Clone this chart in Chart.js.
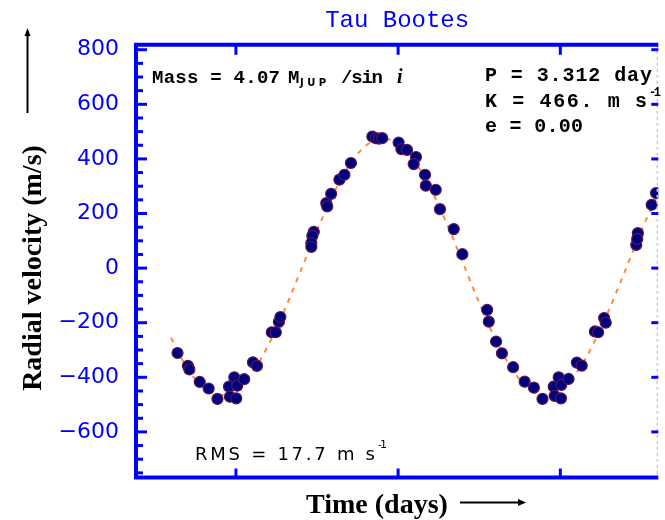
<!DOCTYPE html>
<html>
<head>
<meta charset="utf-8">
<script src="https://cdn.jsdelivr.net/npm/chart.js@4/dist/chart.umd.min.js"></script>
<style>
  body { margin: 0; background: #fff; }
  canvas { display: block; }
</style>
</head>
<body>
<canvas id="rv" width="665" height="520"></canvas>
<script>
// observed radial velocities (time in plot units, velocity in m/s)
const obsTime = [0.640, 0.704, 0.713, 0.777, 0.832, 0.886, 0.957, 0.990, 1.008, 0.963,
  1.002, 1.051, 1.105, 1.130, 1.221, 1.246, 1.265, 1.274, 1.480, 1.471,
  1.465, 1.465, 1.557, 1.563, 1.587, 1.638, 1.669, 1.709, 1.841, 1.862,
  1.882, 1.902, 2.003, 2.020, 2.055, 2.110, 2.096, 2.166, 2.171, 2.232,
  2.258, 2.343, 2.396, 2.549, 2.559, 2.604, 2.640, 2.709, 2.780, 2.837,
  2.890, 2.959, 2.990, 3.006, 2.965, 3.004, 3.051, 3.102, 3.132, 3.213,
  3.233, 3.270, 3.280, 3.468, 3.478, 3.474, 3.563, 3.590];
const obsVel = [-311, -358, -371, -417, -441, -479, -434, -400, -431, -471,
  -477, -407, -345, -358, -235, -235, -197, -179, 133, 118,
  92, 78, 238, 226, 272, 324, 342, 385, 482, 476,
  474, 476, 460, 436, 433, 407, 381, 342, 302, 287,
  216, 143, 51, -153, -196, -269, -312, -363, -416, -438,
  -479, -434, -400, -428, -468, -477, -406, -346, -357, -232,
  -235, -183, -200, 85, 128, 107, 232, 275];

// orbit fit
const fitTime = [0.6, 0.7, 0.8, 0.9, 1.0, 1.1, 1.2, 1.3, 1.4, 1.5, 1.6, 1.7, 1.8, 1.9, 2.0,
  2.1, 2.2, 2.3, 2.4, 2.5, 2.6, 2.7, 2.8, 2.9, 3.0, 3.1, 3.2, 3.3, 3.4, 3.5, 3.6];
const fitVel = [-255, -367, -438, -465, -446, -383, -282, -153, -9, 138, 271, 378, 448, 475, 456,
  393, 292, 163, 19, -128, -261, -368, -438, -465, -446, -383, -282, -153, -9, 138, 271];

const velTicks = [-600, -400, -200, 0, 200, 400, 600, 800];
const timeTicks = [1, 2, 3];

function fitText(ctx, str, x, y, font, width) {
  ctx.font = font;
  ctx.letterSpacing = '0px';
  if (width && str.length > 1) {
    const w = ctx.measureText(str).width;
    ctx.letterSpacing = ((width - w) / (str.length - 1)) + 'px';
  }
  ctx.fillText(str, x, y);
  ctx.letterSpacing = '0px';
}

function seg(ctx, x1, y1, x2, y2) {
  ctx.beginPath();
  ctx.moveTo(x1, y1);
  ctx.lineTo(x2, y2);
  ctx.stroke();
}

const frame = {
  id: 'frame',
  afterDatasetsDraw(chart) {
    const { ctx, chartArea: a, scales: { x, y } } = chart;
    ctx.save();
    // right edge, faint
    ctx.strokeStyle = '#c4c4ff';
    ctx.lineWidth = 1.5;
    ctx.setLineDash([3, 3]);
    seg(ctx, a.right - 1, a.top, a.right - 1, a.bottom);
    ctx.setLineDash([]);

    ctx.strokeStyle = '#0000ff';
    ctx.lineWidth = 4;
    ctx.beginPath();
    ctx.moveTo(a.right, a.top);
    ctx.lineTo(a.left, a.top);
    ctx.lineTo(a.left, a.bottom);
    ctx.lineTo(a.right, a.bottom);
    ctx.stroke();

    ctx.lineWidth = 3;
    for (let v = Math.ceil(y.min / 50) * 50; v <= y.max; v += 50) {
      const py = y.getPixelForValue(v);
      const major = velTicks.includes(v);
      seg(ctx, a.left, py, a.left + (major ? 11 : 7), py);
      if (major) seg(ctx, a.right, py, a.right - 7, py);
    }
    timeTicks.forEach(t => {
      const px = x.getPixelForValue(t);
      seg(ctx, px, a.top, px, a.top + 10);
      seg(ctx, px, a.bottom, px, a.bottom - 9);
    });
    ctx.restore();
  },
  afterDraw(chart) {
    const ctx = chart.ctx;
    ctx.save();
    ctx.fillStyle = '#000';
    ctx.textAlign = 'left';
    ctx.textBaseline = 'alphabetic';
    const mono = 'bold 19px "Liberation Mono"';

    // mass label
    fitText(ctx, 'Mass = 4.07', 152, 83, mono, 128);
    fitText(ctx, 'M', 288, 83, mono);
    fitText(ctx, 'JUP', 300, 86, 'bold 10px "DejaVu Sans"', 26);
    fitText(ctx, '/sin', 341, 83, mono, 42);
    fitText(ctx, 'i', 397, 83, 'italic bold 20px "Liberation Serif"');

    // orbit parameters
    const mono2 = 'bold 20px "Liberation Mono"';
    fitText(ctx, 'P = 3.312 day', 485, 81, mono2, 167);
    fitText(ctx, 'K = 466. m s', 485, 107, mono2, 162);
    fitText(ctx, '-1', 649, 96, 'bold 12px "Liberation Mono"', 12);
    fitText(ctx, 'e = 0.00', 485, 132, mono2, 98);

    // rms
    fitText(ctx, 'RMS = 17.7 m s', 195, 460, '18px "DejaVu Sans"', 180);
    fitText(ctx, '-1', 378, 448, '11px "DejaVu Sans"', 9);

    // axis titles with arrows
    ctx.font = 'bold 28px "Liberation Serif"';
    ctx.textAlign = 'center';
    ctx.fillText('Time (days)', 377, 513);
    ctx.save();
    ctx.translate(41, 268);
    ctx.rotate(-Math.PI / 2);
    ctx.fillText('Radial velocity (m/s)', 0, 0);
    ctx.restore();

    ctx.strokeStyle = '#000';
    ctx.lineWidth = 2;
    seg(ctx, 460, 502.5, 522, 502.5);
    ctx.beginPath();
    ctx.moveTo(526, 502.5); ctx.lineTo(518, 499); ctx.lineTo(518, 506); ctx.closePath(); ctx.fill();
    seg(ctx, 27.5, 113, 27.5, 33);
    ctx.beginPath();
    ctx.moveTo(27.5, 28); ctx.lineTo(24.5, 36); ctx.lineTo(30.5, 36); ctx.closePath(); ctx.fill();
    ctx.restore();
  }
};

new Chart('rv', {
  type: 'scatter',
  data: {
    datasets: [{
      label: 'data',
      data: obsTime.map((t, i) => ({ x: t, y: obsVel[i] })),
      backgroundColor: '#00007e',
      borderColor: '#5e1656',
      borderWidth: 1.2,
      pointRadius: 5.5,
      order: 0
    }, {
      type: 'line',
      label: 'fit',
      data: fitTime.map((t, i) => ({ x: t, y: fitVel[i] })),
      borderColor: '#ff8a3a',
      borderWidth: 2,
      borderDash: [5, 6],
      pointRadius: 0,
      cubicInterpolationMode: 'monotone',
      fill: false,
      order: 1
    }]
  },
  options: {
    responsive: false,
    animation: false,
    layout: { padding: { top: 0, right: 1, bottom: 0, left: 0 } },
    plugins: {
      legend: { display: false },
      tooltip: { enabled: false },
      title: {
        display: true,
        text: 'Tau Bootes',
        color: '#0000ff',
        fullSize: false,
        font: { family: '"Liberation Mono"', size: 24, weight: 'normal' },
        padding: { top: 6, bottom: 10 }
      }
    },
    scales: {
      x: {
        type: 'linear',
        min: 0.384,
        max: 3.604,
        ticks: { display: false },
        grid: { display: false },
        border: { display: false },
        afterFit: s => { s.height = 42.5; }
      },
      y: {
        min: -767,
        max: 818,
        grid: { display: false },
        border: { display: false },
        afterBuildTicks: s => { s.ticks = velTicks.map(v => ({ value: v })); },
        ticks: {
          color: '#0000ff',
          padding: 9,
          font: { family: '"DejaVu Sans"', size: 22 },
          callback: v => String(v).replace('-', '\u2212')
        },
        afterFit: s => { s.width = 136; }
      }
    }
  },
  plugins: [frame]
});
</script>
</body>
</html>
